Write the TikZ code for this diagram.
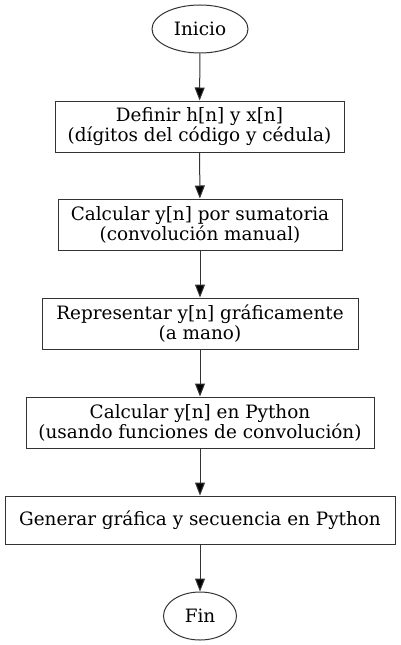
\documentclass[tikz,border=0pt]{standalone}
\usepackage{fontspec}
\setmainfont{DejaVu Serif}
\usetikzlibrary{arrows.meta,shapes.geometric}
\begin{document}
\begin{tikzpicture}[x=1pt,y=1pt,
  every node/.style={font=\fontsize{18.4}{20}\selectfont, text=black, inner sep=0pt},
  stepbox/.style={draw=black!80, line width=1pt, rectangle, align=center},
  term/.style={draw=black!80, line width=1pt, ellipse},
  flow/.style={draw=black!80, line width=1pt, -{Triangle[length=13pt,width=10pt,fill=black]}}
]
\useasboundingbox (0,0) rectangle (400,-645);
\node[term, minimum width=96pt, minimum height=48pt] (ini) at (200,-29) {Inicio};
\node[stepbox, minimum width=289pt, minimum height=51pt] (b1) at (199.5,-126.5) {Definir h[n] y x[n]\\(dígitos del código y cédula)};
\node[stepbox, minimum width=284pt, minimum height=51pt] (b2) at (200,-224.5) {Calcular y[n] por sumatoria\\(convolución manual)};
\node[stepbox, minimum width=316pt, minimum height=51pt] (b3) at (200,-323.5) {Representar y[n] gráficamente\\(a mano)};
\node[stepbox, minimum width=348pt, minimum height=51pt] (b4) at (200,-422.5) {Calcular y[n] en Python\\(usando funciones de convolución)};
\node[stepbox, minimum width=390pt, minimum height=48pt] (b5) at (200,-520) {Generar gráfica y secuencia en Python};
\node[term, minimum width=73pt, minimum height=48pt] (fin) at (200,-616) {Fin};
\draw[flow] (ini) -- (b1);
\draw[flow] (b1) -- (b2);
\draw[flow] (b2) -- (b3);
\draw[flow] (b3) -- (b4);
\draw[flow] (b4) -- (b5);
\draw[flow] (b5) -- (fin);
\end{tikzpicture}
\end{document}
